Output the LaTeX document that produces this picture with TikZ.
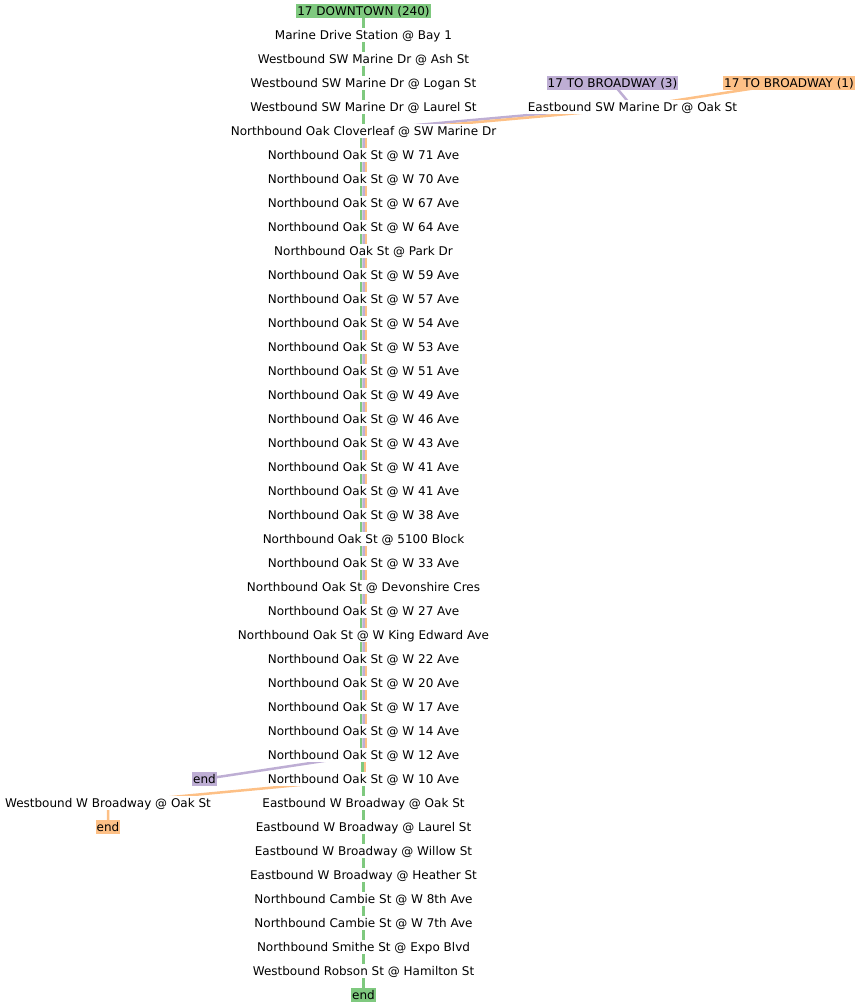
\documentclass[tikz,border=0pt]{standalone}
\usepackage{fontspec}
\setmainfont{DejaVu Sans}
\usetikzlibrary{backgrounds}
\definecolor{routegreen}{HTML}{7FC97F}
\definecolor{routepurple}{HTML}{BEAED4}
\definecolor{routeorange}{HTML}{FDC086}
\tikzset{%
  stopnode/.style  = {shape=rectangle, fill=white,%
                      inner xsep=1pt, inner ysep=1pt,%
                      text height=10.4pt, text depth=1.6pt,%
                      font=\fontsize{12}{14}\selectfont},%
  termnode/.style  = {stopnode, fill=#1},%
  routeline/.style = {line width=2.5pt, draw=#1}%
}
\begin{document}
\begin{tikzpicture}[x=1pt,y=-1pt]
	\useasboundingbox (0,0) rectangle (859,1008);
	% main column
	\node[termnode=routegreen] (s0) at (363.5,11) {17 DOWNTOWN (240)};
	\node[stopnode] (s1) at (363.5,35) {Marine Drive Station @ Bay 1};
	\node[stopnode] (s2) at (363.5,59) {Westbound SW Marine Dr @ Ash St};
	\node[stopnode] (s3) at (363.5,83) {Westbound SW Marine Dr @ Logan St};
	\node[stopnode] (s4) at (363.5,107) {Westbound SW Marine Dr @ Laurel St};
	\node[stopnode] (s5) at (363.5,131) {Northbound Oak Cloverleaf @ SW Marine Dr};
	\node[stopnode] (s6) at (363.5,155) {Northbound Oak St @ W 71 Ave};
	\node[stopnode] (s7) at (363.5,179) {Northbound Oak St @ W 70 Ave};
	\node[stopnode] (s8) at (363.5,203) {Northbound Oak St @ W 67 Ave};
	\node[stopnode] (s9) at (363.5,227) {Northbound Oak St @ W 64 Ave};
	\node[stopnode] (s10) at (363.5,251) {Northbound Oak St @ Park Dr};
	\node[stopnode] (s11) at (363.5,275) {Northbound Oak St @ W 59 Ave};
	\node[stopnode] (s12) at (363.5,299) {Northbound Oak St @ W 57 Ave};
	\node[stopnode] (s13) at (363.5,323) {Northbound Oak St @ W 54 Ave};
	\node[stopnode] (s14) at (363.5,347) {Northbound Oak St @ W 53 Ave};
	\node[stopnode] (s15) at (363.5,371) {Northbound Oak St @ W 51 Ave};
	\node[stopnode] (s16) at (363.5,395) {Northbound Oak St @ W 49 Ave};
	\node[stopnode] (s17) at (363.5,419) {Northbound Oak St @ W 46 Ave};
	\node[stopnode] (s18) at (363.5,443) {Northbound Oak St @ W 43 Ave};
	\node[stopnode] (s19) at (363.5,467) {Northbound Oak St @ W 41 Ave};
	\node[stopnode] (s20) at (363.5,491) {Northbound Oak St @ W 41 Ave};
	\node[stopnode] (s21) at (363.5,515) {Northbound Oak St @ W 38 Ave};
	\node[stopnode] (s22) at (363.5,539) {Northbound Oak St @ 5100 Block};
	\node[stopnode] (s23) at (363.5,563) {Northbound Oak St @ W 33 Ave};
	\node[stopnode] (s24) at (363.5,587) {Northbound Oak St @ Devonshire Cres};
	\node[stopnode] (s25) at (363.5,611) {Northbound Oak St @ W 27 Ave};
	\node[stopnode] (s26) at (363.5,635) {Northbound Oak St @ W King Edward Ave};
	\node[stopnode] (s27) at (363.5,659) {Northbound Oak St @ W 22 Ave};
	\node[stopnode] (s28) at (363.5,683) {Northbound Oak St @ W 20 Ave};
	\node[stopnode] (s29) at (363.5,707) {Northbound Oak St @ W 17 Ave};
	\node[stopnode] (s30) at (363.5,731) {Northbound Oak St @ W 14 Ave};
	\node[stopnode] (s31) at (363.5,755) {Northbound Oak St @ W 12 Ave};
	\node[stopnode] (s32) at (363.5,779) {Northbound Oak St @ W 10 Ave};
	\node[stopnode] (s33) at (363.5,803) {Eastbound W Broadway @ Oak St};
	\node[stopnode] (s34) at (363.5,827) {Eastbound W Broadway @ Laurel St};
	\node[stopnode] (s35) at (363.5,851) {Eastbound W Broadway @ Willow St};
	\node[stopnode] (s36) at (363.5,875) {Eastbound W Broadway @ Heather St};
	\node[stopnode] (s37) at (363.5,899) {Northbound Cambie St @ W 8th Ave};
	\node[stopnode] (s38) at (363.5,923) {Northbound Cambie St @ W 7th Ave};
	\node[stopnode] (s39) at (363.5,947) {Northbound Smithe St @ Expo Blvd};
	\node[stopnode] (s40) at (363.5,971) {Westbound Robson St @ Hamilton St};
	\node[termnode=routegreen] (s41) at (363.5,995) {end};
	% branches
	\node[termnode=routepurple] (bway3) at (612.5,83) {17 TO BROADWAY (3)};
	\node[termnode=routeorange] (bway1) at (789,83) {17 TO BROADWAY (1)};
	\node[stopnode] (oak) at (632.5,107) {Eastbound SW Marine Dr @ Oak St};
	\node[termnode=routepurple] (endp) at (204.5,779) {end};
	\node[stopnode] (wbway) at (108,803) {Westbound W Broadway @ Oak St};
	\node[termnode=routeorange] (endo) at (108,827) {end};
	\begin{pgfonlayer}{background}
	\draw[routeline=routegreen] (s0.center) -- (s5.center);
	\draw[routeline=routegreen] ([xshift=-2.5pt]s5.center) -- ([xshift=-2.5pt]s31.center);
	\draw[routeline=routegreen] ([xshift=-1.25pt]s31.center) -- ([xshift=-1.25pt]s32.center);
	\draw[routeline=routegreen] (s32.center) -- (s41.center);
	\draw[routeline=routepurple] (bway3.center) -- (oak.center);
	\draw[routeline=routepurple] ([yshift=1.25pt]oak.center) -- ([yshift=1.25pt]s5.center);
	\draw[routeline=routepurple] (s5.center) -- (s31.center) -- (endp.center);
	\draw[routeline=routeorange] (bway1.center) -- (oak.center);
	\draw[routeline=routeorange] ([yshift=-1.25pt]oak.center) -- ([yshift=-1.25pt]s5.center);
	\draw[routeline=routeorange] ([xshift=2.5pt]s5.center) -- ([xshift=2.5pt]s31.center);
	\draw[routeline=routeorange] ([xshift=1.25pt]s31.center) -- ([xshift=1.25pt]s32.center);
	\draw[routeline=routeorange] (s32.center) -- (wbway.center) -- (endo.center);
	\end{pgfonlayer}
\end{tikzpicture}
\end{document}
